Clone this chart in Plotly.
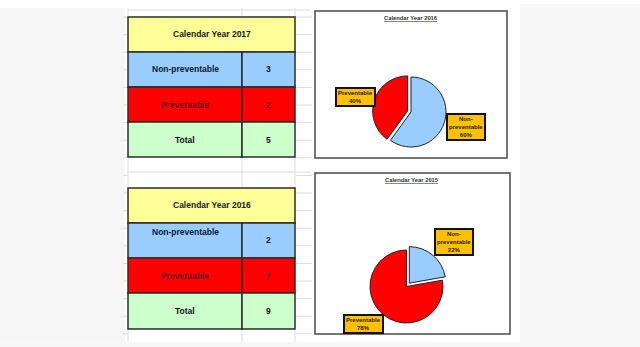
import plotly.graph_objects as go

W, H = 640, 347

# ---------------- data ----------------
table_titles = ["Calendar Year 2017", "Calendar Year 2016"]
row_labels = ["Non-preventable", "Preventable", "Total"]
counts_2017 = [3, 2]
counts_2016 = [2, 7]

pie_titles = ["Calendar Year 2016", "Calendar Year 2015"]
pie_categories = ["Non-preventable", "Preventable"]
pie_label_text = ["Non-<br>preventable", "Preventable"]
pie_values_top = [3, 2]
pie_values_bottom = [2, 7]

# ---------------- style ----------------
FONT = "Liberation Sans, Arial, sans-serif"
row_fill = ["#99CCFF", "#FF0000", "#CCFFCC"]
row_text = ["#0d1a33", "#6e0000", "#111111"]
head_fill = "#FFFF99"
slice_colors = ["#99CCFF", "#FF0000"]
label_fill = "#FFC000"
edge = "#2b2b2b"


def X(px):
    return px / W


def Y(py):
    return 1 - py / H


shapes = []
annotations = []

# background regions of the spreadsheet screenshot
shapes.append(dict(type="rect", xref="paper", yref="paper", x0=X(0), x1=X(125), y0=Y(347), y1=Y(8),
                   fillcolor="#f6f6f6", line=dict(width=0), layer="below"))
shapes.append(dict(type="rect", xref="paper", yref="paper", x0=X(520), x1=X(640), y0=Y(347), y1=Y(4),
                   fillcolor="#f7f7f7", line=dict(width=0), layer="below"))
shapes.append(dict(type="rect", xref="paper", yref="paper", x0=X(0), x1=X(640), y0=Y(347), y1=Y(342),
                   fillcolor="#f7f7f7", line=dict(width=0), layer="below"))

# faint spreadsheet grid lines
grid = "#dcdcdc"
yy = 17.0
while yy < 342:
    shapes.append(dict(type="line", xref="paper", yref="paper", x0=X(296), x1=X(312), y0=Y(yy), y1=Y(yy),
                       line=dict(color=grid, width=1), layer="below"))
    shapes.append(dict(type="line", xref="paper", yref="paper", x0=X(123), x1=X(128), y0=Y(yy), y1=Y(yy),
                       line=dict(color=grid, width=1), layer="below"))
    yy += 17.6
for gx in [128, 242, 295]:
    shapes.append(dict(type="line", xref="paper", yref="paper", x0=X(gx), x1=X(gx), y0=Y(8), y1=Y(17),
                       line=dict(color=grid, width=1), layer="below"))
    shapes.append(dict(type="line", xref="paper", yref="paper", x0=X(gx), x1=X(gx), y0=Y(157), y1=Y(188),
                       line=dict(color=grid, width=1), layer="below"))
    shapes.append(dict(type="line", xref="paper", yref="paper", x0=X(gx), x1=X(gx), y0=Y(329), y1=Y(342),
                       line=dict(color=grid, width=1), layer="below"))
shapes.append(dict(type="line", xref="paper", yref="paper", x0=X(128), x1=X(310), y0=Y(10), y1=Y(10),
                   line=dict(color=grid, width=1), layer="below"))
shapes.append(dict(type="line", xref="paper", yref="paper", x0=X(128), x1=X(310), y0=Y(172), y1=Y(172),
                   line=dict(color=grid, width=1), layer="below"))


# ---------------- tables ----------------
def add_table(title, counts, rows_y, top_align_first=False):
    xa, xb, xc = 128, 242, 295
    # header
    shapes.append(dict(type="rect", xref="paper", yref="paper", x0=X(xa), x1=X(xc),
                       y0=Y(rows_y[1]), y1=Y(rows_y[0]), fillcolor=head_fill,
                       line=dict(color=edge, width=1.5)))
    annotations.append(dict(xref="paper", yref="paper", x=X((xa + xc) / 2), y=Y((rows_y[0] + rows_y[1]) / 2),
                            text="<b>%s</b>" % title, showarrow=False,
                            font=dict(family=FONT, size=8.5, color="#1a1a1a"),
                            xanchor="center", yanchor="middle"))
    vals = list(counts) + [sum(counts)]
    for i, (lab, v) in enumerate(zip(row_labels, vals)):
        ya, yb = rows_y[i + 1], rows_y[i + 2]
        for (c0, c1) in [(xa, xb), (xb, xc)]:
            shapes.append(dict(type="rect", xref="paper", yref="paper", x0=X(c0), x1=X(c1),
                               y0=Y(yb), y1=Y(ya), fillcolor=row_fill[i],
                               line=dict(color=edge, width=1.5)))
        ly = (ya + yb) / 2
        if top_align_first and i == 0:
            ly = ya + 9
        annotations.append(dict(xref="paper", yref="paper", x=X((xa + xb) / 2), y=Y(ly),
                                text="<b>%s</b>" % lab, showarrow=False,
                                font=dict(family=FONT, size=8.5, color=row_text[i]),
                                xanchor="center", yanchor="middle"))
        annotations.append(dict(xref="paper", yref="paper", x=X((xb + xc) / 2), y=Y((ya + yb) / 2),
                                text="<b>%d</b>" % v, showarrow=False,
                                font=dict(family=FONT, size=8.5, color=row_text[i]),
                                xanchor="center", yanchor="middle"))


add_table(table_titles[0], counts_2017, [17, 52, 87, 122, 157])
add_table(table_titles[1], counts_2016, [188, 223, 258, 293, 329], top_align_first=True)

# ---------------- pie charts ----------------
fig = go.Figure()


def add_pie(title, values, box, center, radius, pulls, label_pos):
    bx0, by0, bx1, by1 = box
    shapes.append(dict(type="rect", xref="paper", yref="paper", x0=X(bx0), x1=X(bx1),
                       y0=Y(by1), y1=Y(by0), fillcolor="white",
                       line=dict(color="#4a4a4a", width=1.5), layer="below"))
    annotations.append(dict(xref="paper", yref="paper", x=X((bx0 + bx1) / 2 - 0.5), y=Y(by0 + 7),
                            text="<b><u>%s</u></b>" % title, showarrow=False,
                            font=dict(family=FONT, size=5.8, color="#333333"),
                            xanchor="center", yanchor="middle"))
    cx, cy = center
    half = radius * (1 + max(pulls))
    fig.add_trace(go.Pie(
        labels=pie_categories, values=values, sort=False, direction="clockwise", rotation=0,
        pull=pulls, textinfo="none", hoverinfo="label+percent", showlegend=False,
        marker=dict(colors=slice_colors, line=dict(color="#222222", width=1)),
        domain=dict(x=[X(cx - half), X(cx + half)], y=[Y(cy + half), Y(cy - half)]),
    ))
    total = sum(values)
    for lab, v, (lx, ly) in zip(pie_label_text, values, label_pos):
        pct = round(100.0 * v / total)
        annotations.append(dict(xref="paper", yref="paper", x=X(lx), y=Y(ly),
                                text="<b>%s<br>%d%%</b>" % (lab, pct), showarrow=False,
                                font=dict(family=FONT, size=6, color="#2a2000"),
                                bgcolor=label_fill, bordercolor="#111111", borderwidth=2,
                                borderpad=1, xanchor="center", yanchor="middle"))


add_pie(pie_titles[0], pie_values_top, (315, 11, 507, 158), (411, 112), 35, [0, 0.1],
        [(465.5, 126.5), (355, 97)])
add_pie(pie_titles[1], pie_values_bottom, (315, 173, 510, 334), (406.5, 286.5), 36.5, [0.12, 0],
        [(453.5, 242), (363, 323.5)])

fig.update_layout(
    width=W, height=H, margin=dict(l=0, r=0, t=0, b=0),
    paper_bgcolor="white", plot_bgcolor="white",
    shapes=shapes, annotations=annotations,
    xaxis=dict(visible=False), yaxis=dict(visible=False),
)

fig.write_html("out.html")
